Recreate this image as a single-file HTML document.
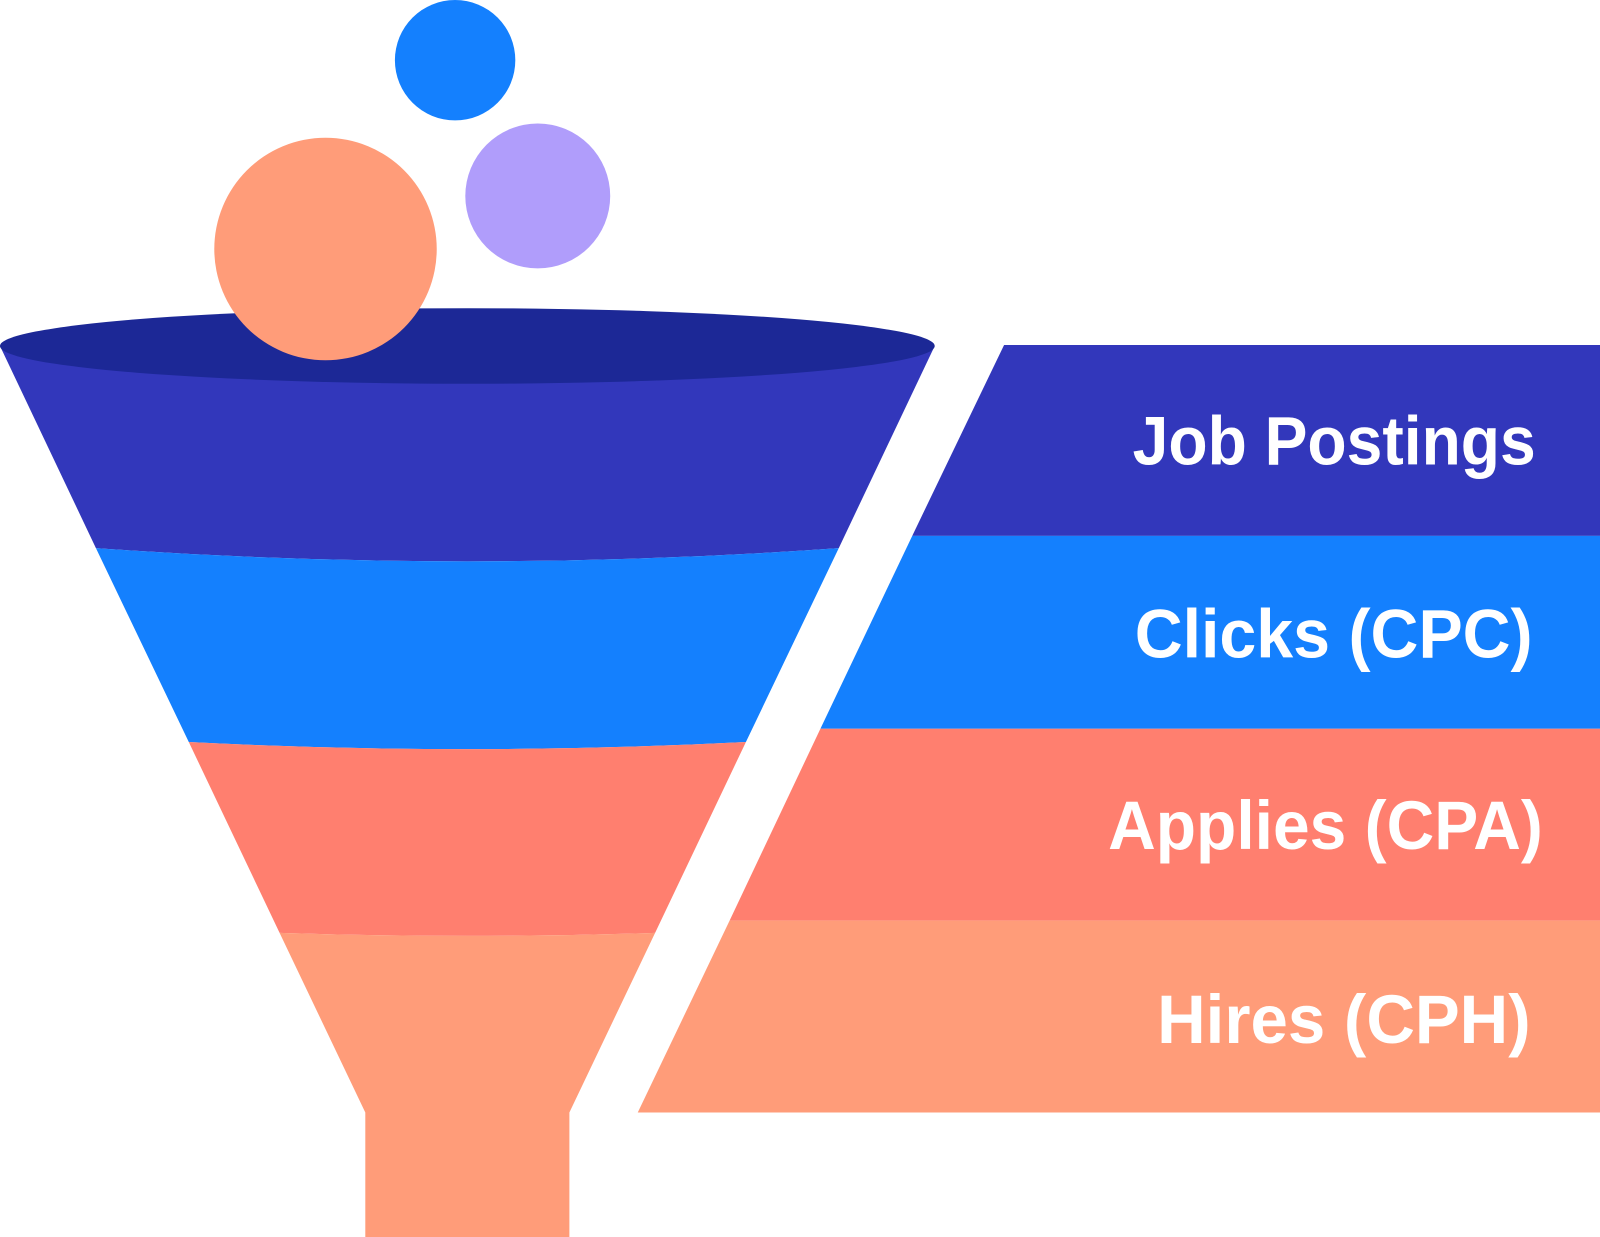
<!DOCTYPE html>
<html><head><meta charset="utf-8"><style>
html,body{margin:0;padding:0;background:#fff;width:1600px;height:1237px;overflow:hidden}
svg{display:block}
text{font-family:"Liberation Sans",sans-serif;font-weight:bold;fill:#fff;font-size:67px}
</style></head><body>
<svg width="1600" height="1237" viewBox="0 0 1568 1212" preserveAspectRatio="none">
<path d="M0,339 L916,339 L822,537 Q458,563 94,537 Z" fill="#3237bb"/>
<path d="M94,537 Q458,563 822,537 L731,727 Q458,741 185,727 Z" fill="#1480fe"/>
<path d="M185,727 Q458,741 731,727 L642,914 Q458,920 274,914 Z" fill="#ff7f6f"/>
<path d="M274,914 Q458,920 642,914 L558,1090 L558,1212 L358,1212 L358,1090 Z" fill="#ff9c79"/>
<ellipse cx="458" cy="339" rx="458" ry="37" fill="#1c2896"/>
<circle cx="446" cy="59" r="59" fill="#1480fe"/>
<circle cx="527" cy="192" r="71" fill="#b09dfb"/>
<circle cx="319" cy="244" r="109" fill="#ff9c79"/>
<path d="M984,338 L1568,338 L1568,525 L894,525 Z" fill="#3237bb"/>
<path d="M894,525 L1568,525 L1568,714 L804,714 Z" fill="#1480fe"/>
<path d="M804,714 L1568,714 L1568,902 L715,902 Z" fill="#ff7f6f"/>
<path d="M715,902 L1568,902 L1568,1090 L625,1090 Z" fill="#ff9c79"/>
<text x="1110" y="455" textLength="395" lengthAdjust="spacingAndGlyphs">Job Postings</text>
<text x="1112" y="644" textLength="390" lengthAdjust="spacingAndGlyphs">Clicks (CPC)</text>
<text x="1086" y="832" textLength="426" lengthAdjust="spacingAndGlyphs">Applies (CPA)</text>
<text x="1134" y="1022" textLength="366" lengthAdjust="spacingAndGlyphs">Hires (CPH)</text>
</svg>
</body></html>
